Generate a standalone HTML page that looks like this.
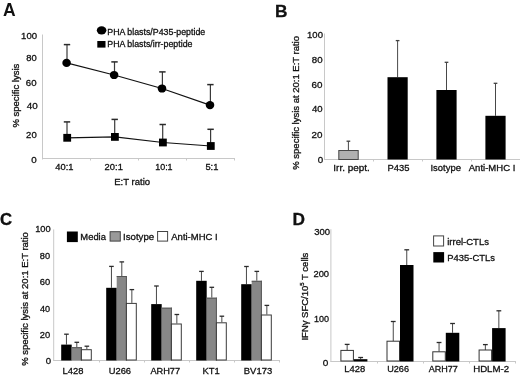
<!DOCTYPE html>
<html><head><meta charset="utf-8"><style>
html,body{margin:0;padding:0;background:#fff;}
body{width:520px;height:377px;overflow:hidden;}
svg{display:block;font-family:"Liberation Sans", sans-serif;filter:blur(0.35px);}
svg text{fill:#111;stroke:#111;stroke-width:0.3px;}
</style></head><body>
<svg width="520" height="377" viewBox="0 0 520 377">
<text transform="translate(107.3,34.55) scale(1.002,1.0)" font-size="8.8" text-anchor="start" font-weight="normal">PHA blasts/P435-peptide</text>
<text transform="translate(107.3,46.65) scale(1.001,1.0)" font-size="8.8" text-anchor="start" font-weight="normal">PHA blasts/irr-peptide</text>
<text transform="translate(55.28,170.05) scale(1.004,1.0)" font-size="9.3" text-anchor="start" font-weight="normal">40:1</text>
<text transform="translate(104.62,169.85) scale(1.007,1.0)" font-size="9.3" text-anchor="start" font-weight="normal">20:1</text>
<text transform="translate(155.2,169.85) scale(0.963,1.0)" font-size="9.3" text-anchor="start" font-weight="normal">10:1</text>
<text transform="translate(205.42,169.85) scale(1.005,1.0)" font-size="9.3" text-anchor="start" font-weight="normal">5:1</text>
<text transform="translate(114.16,184.55) scale(1.028,1.0)" font-size="9.3" text-anchor="start" font-weight="normal">E:T ratio</text>
<text transform="translate(21.06,38.95) scale(1.032,1.0)" font-size="9.3" text-anchor="start" font-weight="normal">100</text>
<text transform="translate(26.25,60.65) scale(1.013,1.0)" font-size="9.3" text-anchor="start" font-weight="normal">80</text>
<text transform="translate(25.81,86.45) scale(1.037,1.0)" font-size="9.3" text-anchor="start" font-weight="normal">60</text>
<text transform="translate(26.87,109.35) scale(1.06,1.0)" font-size="9.3" text-anchor="start" font-weight="normal">40</text>
<text transform="translate(26.11,138.05) scale(1.027,1.0)" font-size="9.3" text-anchor="start" font-weight="normal">20</text>
<text transform="translate(31.34,163.15) scale(1.053,1.0)" font-size="9.3" text-anchor="start" font-weight="normal">0</text>
<text transform="translate(333.35,170.75) scale(1.065,1.0)" font-size="9.3" text-anchor="start" font-weight="normal">Irr. pept.</text>
<text transform="translate(387.57,170.75) scale(1.011,1.0)" font-size="9.3" text-anchor="start" font-weight="normal">P435</text>
<text transform="translate(430.49,170.75) scale(1.019,1.0)" font-size="9.3" text-anchor="start" font-weight="normal">Isotype</text>
<text transform="translate(468.75,170.75) scale(1.025,1.0)" font-size="9.3" text-anchor="start" font-weight="normal">Anti-MHC I</text>
<text transform="translate(307.06,38.45) scale(1.025,1.0)" font-size="9.3" text-anchor="start" font-weight="normal">100</text>
<text transform="translate(311.74,62.75) scale(1.044,1.0)" font-size="9.3" text-anchor="start" font-weight="normal">80</text>
<text transform="translate(311.6,88.05) scale(1.057,1.0)" font-size="9.3" text-anchor="start" font-weight="normal">60</text>
<text transform="translate(311.88,111.65) scale(1.03,1.0)" font-size="9.3" text-anchor="start" font-weight="normal">40</text>
<text transform="translate(311.6,138.25) scale(1.057,1.0)" font-size="9.3" text-anchor="start" font-weight="normal">20</text>
<text transform="translate(317.84,163.25) scale(1.053,1.0)" font-size="9.3" text-anchor="start" font-weight="normal">0</text>
<text transform="translate(80.37,240.35) scale(1.01,1.0)" font-size="9.3" text-anchor="start" font-weight="normal">Media</text>
<text transform="translate(123.02,240.25) scale(1.038,1.0)" font-size="9.3" text-anchor="start" font-weight="normal">Isotype</text>
<text transform="translate(171.3,240.25) scale(1.021,1.0)" font-size="9.3" text-anchor="start" font-weight="normal">Anti-MHC I</text>
<text transform="translate(62.47,373.95) scale(1.012,1.0)" font-size="9.3" text-anchor="start" font-weight="normal">L428</text>
<text transform="translate(108.7,373.95) scale(1.005,1.0)" font-size="9.3" text-anchor="start" font-weight="normal">U266</text>
<text transform="translate(150.4,373.95) scale(0.993,1.0)" font-size="9.3" text-anchor="start" font-weight="normal">ARH77</text>
<text transform="translate(202.47,373.95) scale(1.011,1.0)" font-size="9.3" text-anchor="start" font-weight="normal">KT1</text>
<text transform="translate(243.77,373.95) scale(1.019,1.0)" font-size="9.3" text-anchor="start" font-weight="normal">BV173</text>
<text transform="translate(35.18,232.15) scale(0.998,1.0)" font-size="9.3" text-anchor="start" font-weight="normal">100</text>
<text transform="translate(39.85,258.95) scale(0.993,1.0)" font-size="9.3" text-anchor="start" font-weight="normal">80</text>
<text transform="translate(39.72,285.05) scale(1.006,1.0)" font-size="9.3" text-anchor="start" font-weight="normal">60</text>
<text transform="translate(39.98,312.05) scale(0.98,1.0)" font-size="9.3" text-anchor="start" font-weight="normal">40</text>
<text transform="translate(39.72,338.05) scale(1.006,1.0)" font-size="9.3" text-anchor="start" font-weight="normal">20</text>
<text transform="translate(45.64,363.95) scale(1.032,1.0)" font-size="9.3" text-anchor="start" font-weight="normal">0</text>
<text transform="translate(447.19,245.15) scale(1.024,1.0)" font-size="9.3" text-anchor="start" font-weight="normal">irrel-CTLs</text>
<text transform="translate(447.27,261.45) scale(1.014,1.0)" font-size="9.3" text-anchor="start" font-weight="normal">P435-CTLs</text>
<text transform="translate(344.37,372.45) scale(1.012,1.0)" font-size="9.3" text-anchor="start" font-weight="normal">L428</text>
<text transform="translate(387.21,372.45) scale(0.981,1.0)" font-size="9.3" text-anchor="start" font-weight="normal">U266</text>
<text transform="translate(428.7,372.45) scale(0.972,1.0)" font-size="9.3" text-anchor="start" font-weight="normal">ARH77</text>
<text transform="translate(473.15,372.45) scale(1.041,1.0)" font-size="9.3" text-anchor="start" font-weight="normal">HDLM-2</text>
<text transform="translate(314.25,234.75) scale(1.02,1.0)" font-size="9.3" text-anchor="start" font-weight="normal">300</text>
<text transform="translate(313.42,277.45) scale(1.009,1.0)" font-size="9.3" text-anchor="start" font-weight="normal">200</text>
<text transform="translate(314.0,322.05) scale(0.971,1.0)" font-size="9.3" text-anchor="start" font-weight="normal">100</text>
<text transform="translate(322.83,365.85) scale(1.074,1.0)" font-size="9.3" text-anchor="start" font-weight="normal">0</text>
<text transform="translate(2.9,15.5) scale(1.0,1.0)" font-size="17.5" text-anchor="start" font-weight="bold" style="stroke-width:0px">A</text>
<line x1="42.5" y1="34.5" x2="42.5" y2="159.5" stroke="#c8c8c8" stroke-width="1"/>
<line x1="42" y1="158.5" x2="235" y2="158.5" stroke="#c8c8c8" stroke-width="1"/>
<line x1="90.5" y1="158" x2="90.5" y2="160.5" stroke="#c8c8c8" stroke-width="1"/>
<line x1="138.5" y1="158" x2="138.5" y2="160.5" stroke="#c8c8c8" stroke-width="1"/>
<line x1="186.5" y1="158" x2="186.5" y2="160.5" stroke="#c8c8c8" stroke-width="1"/>
<line x1="234.5" y1="158" x2="234.5" y2="160.5" stroke="#c8c8c8" stroke-width="1"/>
<ellipse cx="101.6" cy="30.3" rx="4.8" ry="4.1" fill="#000"/>
<rect x="97.3" y="41.0" width="8.2" height="6.6" fill="#000" stroke="none" stroke-width="1"/>
<line x1="67.0" y1="44.6" x2="67.0" y2="62.9" stroke="#3a3a3a" stroke-width="1.2"/>
<line x1="63.8" y1="44.6" x2="70.2" y2="44.6" stroke="#2a2a2a" stroke-width="1.5"/>
<line x1="114.5" y1="61.9" x2="114.5" y2="75" stroke="#3a3a3a" stroke-width="1.2"/>
<line x1="111.3" y1="61.9" x2="117.7" y2="61.9" stroke="#2a2a2a" stroke-width="1.5"/>
<line x1="162.4" y1="71.9" x2="162.4" y2="88.5" stroke="#3a3a3a" stroke-width="1.2"/>
<line x1="159.20000000000002" y1="71.9" x2="165.6" y2="71.9" stroke="#2a2a2a" stroke-width="1.5"/>
<line x1="210.4" y1="84.6" x2="210.4" y2="105.1" stroke="#3a3a3a" stroke-width="1.2"/>
<line x1="207.20000000000002" y1="84.6" x2="213.6" y2="84.6" stroke="#2a2a2a" stroke-width="1.5"/>
<line x1="67.0" y1="121.9" x2="67.0" y2="137.8" stroke="#3a3a3a" stroke-width="1.2"/>
<line x1="63.8" y1="121.9" x2="70.2" y2="121.9" stroke="#2a2a2a" stroke-width="1.5"/>
<line x1="114.7" y1="119.4" x2="114.7" y2="136.9" stroke="#3a3a3a" stroke-width="1.2"/>
<line x1="111.5" y1="119.4" x2="117.9" y2="119.4" stroke="#2a2a2a" stroke-width="1.5"/>
<line x1="162.70000000000002" y1="124.5" x2="162.70000000000002" y2="142.5" stroke="#3a3a3a" stroke-width="1.2"/>
<line x1="159.50000000000003" y1="124.5" x2="165.9" y2="124.5" stroke="#2a2a2a" stroke-width="1.5"/>
<line x1="210.60000000000002" y1="129.3" x2="210.60000000000002" y2="146" stroke="#3a3a3a" stroke-width="1.2"/>
<line x1="207.40000000000003" y1="129.3" x2="213.8" y2="129.3" stroke="#2a2a2a" stroke-width="1.5"/>
<polyline points="66.6,62.9 114.1,75 162,88.5 210,105.1" fill="none" stroke="#111" stroke-width="1.2"/>
<polyline points="67.2,137.8 114.9,136.9 162.9,142.5 210.8,146" fill="none" stroke="#111" stroke-width="1.2"/>
<ellipse cx="66.6" cy="62.9" rx="4.3" ry="4.1" fill="#000"/>
<ellipse cx="114.1" cy="75" rx="4.3" ry="4.1" fill="#000"/>
<ellipse cx="162" cy="88.5" rx="4.3" ry="4.1" fill="#000"/>
<ellipse cx="210" cy="105.1" rx="4.3" ry="4.1" fill="#000"/>
<rect x="63.300000000000004" y="133.9" width="7.8" height="7.8" fill="#000" stroke="none" stroke-width="1"/>
<rect x="111.0" y="133.0" width="7.8" height="7.8" fill="#000" stroke="none" stroke-width="1"/>
<rect x="159.0" y="138.6" width="7.8" height="7.8" fill="#000" stroke="none" stroke-width="1"/>
<rect x="206.9" y="142.1" width="7.8" height="7.8" fill="#000" stroke="none" stroke-width="1"/>
<text transform="translate(18.7,95.65) rotate(-90) scale(1.08,1)" font-size="8.8" text-anchor="middle">% specific lysis</text>
<text transform="translate(274.9,16.5) scale(1.0,1.0)" font-size="17.3" text-anchor="start" font-weight="bold" style="stroke-width:0.3px">B</text>
<line x1="324.5" y1="33.5" x2="324.5" y2="160" stroke="#c8c8c8" stroke-width="1"/>
<line x1="324" y1="159.5" x2="520" y2="159.5" stroke="#c8c8c8" stroke-width="1"/>
<line x1="373.5" y1="159" x2="373.5" y2="161.5" stroke="#c8c8c8" stroke-width="1"/>
<line x1="422.5" y1="159" x2="422.5" y2="161.5" stroke="#c8c8c8" stroke-width="1"/>
<line x1="471.5" y1="159" x2="471.5" y2="161.5" stroke="#c8c8c8" stroke-width="1"/>
<line x1="348.40000000000003" y1="141.2" x2="348.40000000000003" y2="150.2" stroke="#484848" stroke-width="1.0"/>
<line x1="346.55" y1="141.2" x2="350.25000000000006" y2="141.2" stroke="#404040" stroke-width="1.3"/>
<rect x="338.8" y="150.5" width="19.4" height="9.0" fill="#b0b0b0" stroke="#484848" stroke-width="1"/>
<line x1="397.6" y1="40.6" x2="397.6" y2="77.2" stroke="#484848" stroke-width="1.0"/>
<line x1="395.75" y1="40.6" x2="399.45000000000005" y2="40.6" stroke="#404040" stroke-width="1.3"/>
<rect x="387.5" y="77.2" width="20.2" height="82.3" fill="#000" stroke="none" stroke-width="1"/>
<line x1="446.5" y1="62.3" x2="446.5" y2="90" stroke="#484848" stroke-width="1.0"/>
<line x1="444.65" y1="62.3" x2="448.35" y2="62.3" stroke="#404040" stroke-width="1.3"/>
<rect x="436.4" y="90" width="20.2" height="69.5" fill="#000" stroke="none" stroke-width="1"/>
<line x1="495.5" y1="83.3" x2="495.5" y2="115.8" stroke="#484848" stroke-width="1.0"/>
<line x1="493.65" y1="83.3" x2="497.35" y2="83.3" stroke="#404040" stroke-width="1.3"/>
<rect x="485.4" y="115.8" width="20.2" height="43.7" fill="#000" stroke="none" stroke-width="1"/>
<text transform="translate(298.6,102.85) rotate(-90) scale(1.08,1)" font-size="8.8" text-anchor="middle">% specific lysis at 20:1 E:T ratio</text>
<text transform="translate(-0.1,225.0) scale(0.96,1.0)" font-size="17.4" text-anchor="start" font-weight="bold" style="stroke-width:0.35px">C</text>
<line x1="53.7" y1="229.4" x2="53.7" y2="361" stroke="#c8c8c8" stroke-width="1"/>
<line x1="53.5" y1="360.5" x2="280" y2="360.5" stroke="#c8c8c8" stroke-width="1"/>
<line x1="99.5" y1="360" x2="99.5" y2="362.5" stroke="#c8c8c8" stroke-width="1"/>
<line x1="144.5" y1="360" x2="144.5" y2="362.5" stroke="#c8c8c8" stroke-width="1"/>
<line x1="189.5" y1="360" x2="189.5" y2="362.5" stroke="#c8c8c8" stroke-width="1"/>
<line x1="234.5" y1="360" x2="234.5" y2="362.5" stroke="#c8c8c8" stroke-width="1"/>
<line x1="279.5" y1="360" x2="279.5" y2="362.5" stroke="#c8c8c8" stroke-width="1"/>
<rect x="66.9" y="231.5" width="10.9" height="10.6" fill="#000" stroke="none" stroke-width="1"/>
<rect x="110.1" y="231.7" width="10.2" height="9.4" fill="#999" stroke="#444" stroke-width="1"/>
<rect x="157.6" y="231.5" width="10.0" height="9.6" fill="#fff" stroke="#444" stroke-width="1"/>
<line x1="66.45" y1="334.2" x2="66.45" y2="344.6" stroke="#484848" stroke-width="1.0"/>
<line x1="64.15" y1="334.2" x2="68.75" y2="334.2" stroke="#2a2a2a" stroke-width="1.3"/>
<line x1="76.80000000000001" y1="342.3" x2="76.80000000000001" y2="347.2" stroke="#484848" stroke-width="1.0"/>
<line x1="74.50000000000001" y1="342.3" x2="79.10000000000001" y2="342.3" stroke="#2a2a2a" stroke-width="1.3"/>
<line x1="86.85000000000001" y1="346.2" x2="86.85000000000001" y2="349.2" stroke="#484848" stroke-width="1.0"/>
<line x1="84.55000000000001" y1="346.2" x2="89.15" y2="346.2" stroke="#2a2a2a" stroke-width="1.3"/>
<rect x="61.2" y="344.6" width="10.5" height="15.899999999999977" fill="#000" stroke="none" stroke-width="1"/>
<rect x="71.7" y="347.2" width="10.200000000000003" height="13.300000000000011" fill="#878787" stroke="none" stroke-width="1"/>
<line x1="71.7" y1="347.7" x2="81.9" y2="347.7" stroke="#555" stroke-width="1"/>
<line x1="81.4" y1="347.2" x2="81.4" y2="360.5" stroke="#5a5a5a" stroke-width="1"/>
<rect x="81.4" y="349.7" width="9.900000000000006" height="10.300000000000011" fill="#fff" stroke="#3a3a3a" stroke-width="1"/>
<line x1="111.45" y1="266.4" x2="111.45" y2="287.8" stroke="#484848" stroke-width="1.0"/>
<line x1="109.15" y1="266.4" x2="113.75" y2="266.4" stroke="#2a2a2a" stroke-width="1.3"/>
<line x1="121.80000000000001" y1="261.9" x2="121.80000000000001" y2="276" stroke="#484848" stroke-width="1.0"/>
<line x1="119.50000000000001" y1="261.9" x2="124.10000000000001" y2="261.9" stroke="#2a2a2a" stroke-width="1.3"/>
<line x1="131.85000000000002" y1="289.6" x2="131.85000000000002" y2="302.9" stroke="#484848" stroke-width="1.0"/>
<line x1="129.55" y1="289.6" x2="134.15000000000003" y2="289.6" stroke="#2a2a2a" stroke-width="1.3"/>
<rect x="106.2" y="287.8" width="10.5" height="72.69999999999999" fill="#000" stroke="none" stroke-width="1"/>
<rect x="116.7" y="276" width="10.200000000000003" height="84.5" fill="#878787" stroke="none" stroke-width="1"/>
<line x1="116.7" y1="276.5" x2="126.9" y2="276.5" stroke="#555" stroke-width="1"/>
<line x1="126.4" y1="276" x2="126.4" y2="360.5" stroke="#5a5a5a" stroke-width="1"/>
<rect x="126.4" y="303.4" width="9.900000000000006" height="56.60000000000002" fill="#fff" stroke="#3a3a3a" stroke-width="1"/>
<line x1="156.45" y1="286" x2="156.45" y2="304.1" stroke="#484848" stroke-width="1.0"/>
<line x1="154.14999999999998" y1="286" x2="158.75" y2="286" stroke="#2a2a2a" stroke-width="1.3"/>
<line x1="176.84999999999997" y1="314.5" x2="176.84999999999997" y2="323.5" stroke="#484848" stroke-width="1.0"/>
<line x1="174.54999999999995" y1="314.5" x2="179.14999999999998" y2="314.5" stroke="#2a2a2a" stroke-width="1.3"/>
<rect x="151.2" y="304.1" width="10.5" height="56.39999999999998" fill="#000" stroke="none" stroke-width="1"/>
<rect x="161.7" y="307.7" width="10.199999999999989" height="52.80000000000001" fill="#878787" stroke="none" stroke-width="1"/>
<line x1="161.7" y1="308.2" x2="171.89999999999998" y2="308.2" stroke="#555" stroke-width="1"/>
<line x1="171.39999999999998" y1="307.7" x2="171.39999999999998" y2="360.5" stroke="#5a5a5a" stroke-width="1"/>
<rect x="171.39999999999998" y="324.0" width="9.900000000000006" height="36.0" fill="#fff" stroke="#3a3a3a" stroke-width="1"/>
<line x1="201.45" y1="271.4" x2="201.45" y2="280.8" stroke="#484848" stroke-width="1.0"/>
<line x1="199.14999999999998" y1="271.4" x2="203.75" y2="271.4" stroke="#2a2a2a" stroke-width="1.3"/>
<line x1="211.79999999999998" y1="287.3" x2="211.79999999999998" y2="297.7" stroke="#484848" stroke-width="1.0"/>
<line x1="209.49999999999997" y1="287.3" x2="214.1" y2="287.3" stroke="#2a2a2a" stroke-width="1.3"/>
<line x1="221.84999999999997" y1="316.2" x2="221.84999999999997" y2="322.3" stroke="#484848" stroke-width="1.0"/>
<line x1="219.54999999999995" y1="316.2" x2="224.14999999999998" y2="316.2" stroke="#2a2a2a" stroke-width="1.3"/>
<rect x="196.2" y="280.8" width="10.5" height="79.69999999999999" fill="#000" stroke="none" stroke-width="1"/>
<rect x="206.7" y="297.7" width="10.199999999999989" height="62.80000000000001" fill="#878787" stroke="none" stroke-width="1"/>
<line x1="206.7" y1="298.2" x2="216.89999999999998" y2="298.2" stroke="#555" stroke-width="1"/>
<line x1="216.39999999999998" y1="297.7" x2="216.39999999999998" y2="360.5" stroke="#5a5a5a" stroke-width="1"/>
<rect x="216.39999999999998" y="322.8" width="9.900000000000006" height="37.19999999999999" fill="#fff" stroke="#3a3a3a" stroke-width="1"/>
<line x1="246.45" y1="266.5" x2="246.45" y2="284.2" stroke="#484848" stroke-width="1.0"/>
<line x1="244.14999999999998" y1="266.5" x2="248.75" y2="266.5" stroke="#2a2a2a" stroke-width="1.3"/>
<line x1="256.79999999999995" y1="271.4" x2="256.79999999999995" y2="280.8" stroke="#484848" stroke-width="1.0"/>
<line x1="254.49999999999994" y1="271.4" x2="259.09999999999997" y2="271.4" stroke="#2a2a2a" stroke-width="1.3"/>
<line x1="266.85" y1="305.4" x2="266.85" y2="314.5" stroke="#484848" stroke-width="1.0"/>
<line x1="264.55" y1="305.4" x2="269.15000000000003" y2="305.4" stroke="#2a2a2a" stroke-width="1.3"/>
<rect x="241.2" y="284.2" width="10.5" height="76.30000000000001" fill="#000" stroke="none" stroke-width="1"/>
<rect x="251.7" y="280.8" width="10.199999999999989" height="79.69999999999999" fill="#878787" stroke="none" stroke-width="1"/>
<line x1="251.7" y1="281.3" x2="261.9" y2="281.3" stroke="#555" stroke-width="1"/>
<line x1="261.4" y1="280.8" x2="261.4" y2="360.5" stroke="#5a5a5a" stroke-width="1"/>
<rect x="261.4" y="315.0" width="9.900000000000034" height="45.0" fill="#fff" stroke="#3a3a3a" stroke-width="1"/>
<text transform="translate(28.3,299) rotate(-90) scale(1.08,1)" font-size="8.8" text-anchor="middle">% specific lysis at 20:1 E:T ratio</text>
<text transform="translate(292.5,224.8) scale(1.0,1.0)" font-size="17.3" text-anchor="start" font-weight="bold" style="stroke-width:0.3px">D</text>
<line x1="330.9" y1="229.2" x2="330.9" y2="362" stroke="#c8c8c8" stroke-width="1"/>
<line x1="330.5" y1="361.5" x2="516" y2="361.5" stroke="#c8c8c8" stroke-width="1"/>
<line x1="377.5" y1="361" x2="377.5" y2="363.5" stroke="#c8c8c8" stroke-width="1"/>
<line x1="423.5" y1="361" x2="423.5" y2="363.5" stroke="#c8c8c8" stroke-width="1"/>
<line x1="469.5" y1="361" x2="469.5" y2="363.5" stroke="#c8c8c8" stroke-width="1"/>
<line x1="515.5" y1="361" x2="515.5" y2="363.5" stroke="#c8c8c8" stroke-width="1"/>
<rect x="433.6" y="235.9" width="10.0" height="10.1" fill="#fff" stroke="#444" stroke-width="1"/>
<rect x="433.3" y="252.1" width="10.8" height="10.4" fill="#000" stroke="none" stroke-width="1"/>
<line x1="347.15" y1="344.4" x2="347.15" y2="350.4" stroke="#484848" stroke-width="1.0"/>
<line x1="344.75" y1="344.4" x2="349.54999999999995" y2="344.4" stroke="#2a2a2a" stroke-width="1.3"/>
<line x1="360.65" y1="357.5" x2="360.65" y2="359.2" stroke="#484848" stroke-width="1.0"/>
<line x1="358.25" y1="357.5" x2="363.04999999999995" y2="357.5" stroke="#2a2a2a" stroke-width="1.3"/>
<rect x="340.9" y="350.4" width="12.5" height="10.600000000000023" fill="#fff" stroke="#333" stroke-width="1"/>
<rect x="353.9" y="359.2" width="13.5" height="2.3000000000000114" fill="#000" stroke="none" stroke-width="1"/>
<line x1="393.25" y1="321.5" x2="393.25" y2="341.2" stroke="#484848" stroke-width="1.0"/>
<line x1="390.85" y1="321.5" x2="395.65" y2="321.5" stroke="#2a2a2a" stroke-width="1.3"/>
<line x1="406.75" y1="249.8" x2="406.75" y2="265" stroke="#484848" stroke-width="1.0"/>
<line x1="404.35" y1="249.8" x2="409.15" y2="249.8" stroke="#2a2a2a" stroke-width="1.3"/>
<rect x="387.0" y="341.2" width="12.5" height="19.80000000000001" fill="#fff" stroke="#333" stroke-width="1"/>
<rect x="400.0" y="265" width="13.5" height="96.5" fill="#000" stroke="none" stroke-width="1"/>
<line x1="439.05" y1="342.5" x2="439.05" y2="351.8" stroke="#484848" stroke-width="1.0"/>
<line x1="436.65000000000003" y1="342.5" x2="441.45" y2="342.5" stroke="#2a2a2a" stroke-width="1.3"/>
<line x1="452.55" y1="323.5" x2="452.55" y2="332.8" stroke="#484848" stroke-width="1.0"/>
<line x1="450.15000000000003" y1="323.5" x2="454.95" y2="323.5" stroke="#2a2a2a" stroke-width="1.3"/>
<rect x="432.8" y="351.8" width="12.5" height="9.199999999999989" fill="#fff" stroke="#333" stroke-width="1"/>
<rect x="445.8" y="332.8" width="13.5" height="28.69999999999999" fill="#000" stroke="none" stroke-width="1"/>
<line x1="485.35" y1="344.6" x2="485.35" y2="350" stroke="#484848" stroke-width="1.0"/>
<line x1="482.95000000000005" y1="344.6" x2="487.75" y2="344.6" stroke="#2a2a2a" stroke-width="1.3"/>
<line x1="498.85" y1="310.8" x2="498.85" y2="328.1" stroke="#484848" stroke-width="1.0"/>
<line x1="496.45000000000005" y1="310.8" x2="501.25" y2="310.8" stroke="#2a2a2a" stroke-width="1.3"/>
<rect x="479.1" y="350" width="12.5" height="11" fill="#fff" stroke="#333" stroke-width="1"/>
<rect x="492.1" y="328.1" width="13.5" height="33.39999999999998" fill="#000" stroke="none" stroke-width="1"/>
<text transform="translate(307.7,296.6) rotate(-90) scale(1.08,1)" font-size="8.8" text-anchor="middle">IFN&#947; SFC/10<tspan font-size="5.6" dy="-3.6">5</tspan><tspan dy="3.6"> T cells</tspan></text>
</svg>
</body></html>
